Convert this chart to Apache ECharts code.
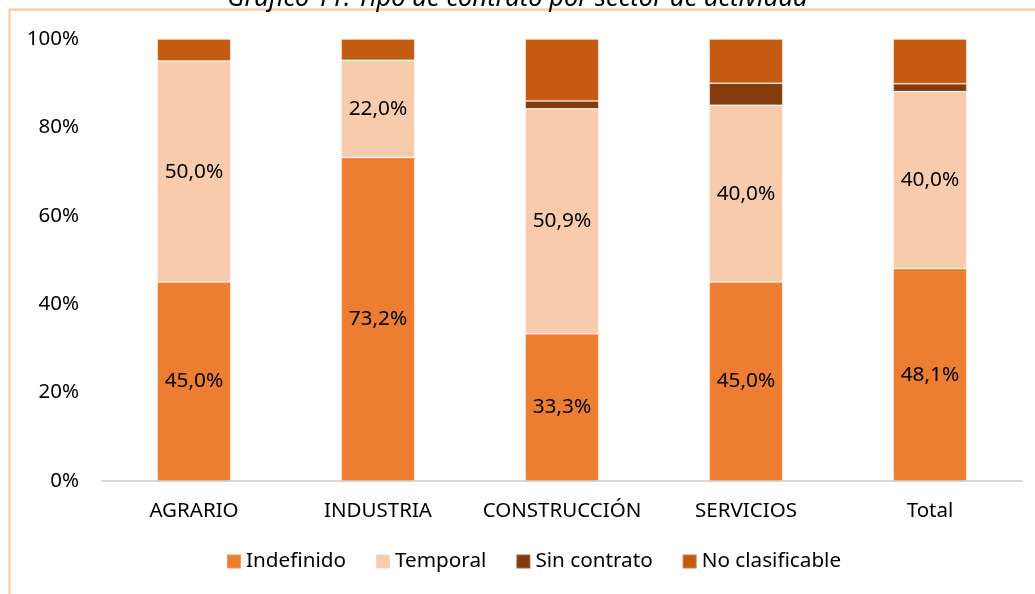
<!DOCTYPE html>
<html>
<head>
<meta charset="utf-8">
<script src="https://cdn.jsdelivr.net/npm/echarts@6/dist/echarts.min.js"></script>
<style>html,body{margin:0;padding:0;background:#fff;}#c{width:1035px;height:594px;}</style>
</head>
<body>
<div id="c"></div>
<script>
const categories = ['AGRARIO', 'INDUSTRIA', 'CONSTRUCCIÓN', 'SERVICIOS', 'Total'];
const indefinido = [45.0, 73.2, 33.3, 45.0, 48.1];
const temporal = [50.0, 22.0, 50.9, 40.0, 40.0];
const sinContrato = [0, 0, 1.8, 5.0, 1.8];
const noClasificable = [5.0, 4.8, 14.0, 10.0, 10.1];
const yTicks = [0, 20, 40, 60, 80, 100];
const titleText = 'Gráfico 11. Tipo de contrato por sector de actividad';

const FONT = 'Noto Sans';
const chart = echarts.init(document.getElementById('c'), null, {renderer: 'canvas'});
const lbl = {
  show: true, position: 'inside', color: '#000', fontFamily: FONT, fontSize: 20.8,
  formatter: p => p.value.toFixed(1).replace('.', ',') + '%'
};
const common = {type: 'bar', stack: 'total', barCategoryGap: '60%',
  itemStyle: {borderColor: 'rgba(255,255,255,0.2)', borderWidth: 1}};
chart.setOption({
  animation: false,
  textStyle: {fontFamily: FONT},
  title: {
    text: titleText, left: 'center', top: -19,
    textStyle: {fontFamily: FONT, fontStyle: 'italic', fontSize: 25.5, fontWeight: 'normal', color: '#000'}
  },
  graphic: [{
    type: 'rect', shape: {x: 9.5, y: 9.5, width: 1100, height: 700},
    style: {fill: 'none', stroke: '#F9C596', lineWidth: 2}, z: -1
  }],
  legend: {
    bottom: 17, left: 221, itemWidth: 14, itemHeight: 14, itemGap: 29,
    icon: 'rect',
    textStyle: {fontFamily: FONT, fontSize: 20.7, color: '#000'},
    data: ['Indefinido', 'Temporal', 'Sin contrato', 'No clasificable']
  },
  grid: {left: 102, right: 13, top: 39, bottom: 113},
  xAxis: {
    type: 'category', data: categories,
    axisLine: {lineStyle: {color: '#D9D9D9', width: 2}},
    axisTick: {show: false},
    axisLabel: {fontFamily: FONT, fontSize: 20.5, color: '#000', margin: 20, interval: 0, hideOverlap: false}
  },
  yAxis: {
    type: 'value', min: 0, max: 100, interval: 20,
    splitLine: {show: false}, axisLine: {show: false}, axisTick: {show: false},
    axisLabel: {fontFamily: FONT, fontSize: 20.5, color: '#000', margin: 23,
      formatter: v => yTicks.includes(v) ? v + '%' : ''}
  },
  series: [
    Object.assign({}, common, {name: 'Indefinido', data: indefinido, color: '#ED7D31', label: lbl}),
    Object.assign({}, common, {name: 'Temporal', data: temporal, color: '#F8CBAD', label: lbl}),
    Object.assign({}, common, {name: 'Sin contrato', data: sinContrato, color: '#843C0C'}),
    Object.assign({}, common, {name: 'No clasificable', data: noClasificable, color: '#C55A11'})
  ]
});
</script>
</body>
</html>
